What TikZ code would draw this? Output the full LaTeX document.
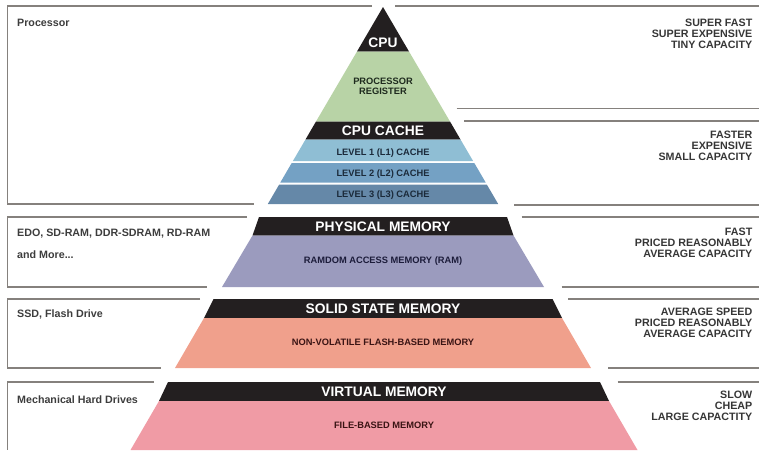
\documentclass[tikz,border=0pt]{standalone}
\usepackage{fontspec}
\setmainfont{Liberation Sans}
\definecolor{framegray}{HTML}{85817D}
\definecolor{bandblack}{HTML}{231F20}
\definecolor{reggreen}{HTML}{B8D3A6}
\definecolor{levelone}{HTML}{8FBED4}
\definecolor{leveltwo}{HTML}{74A1C4}
\definecolor{levelthree}{HTML}{6588A8}
\definecolor{rampurple}{HTML}{9B9BBE}
\definecolor{flashsalmon}{HTML}{F0A08C}
\definecolor{filepink}{HTML}{F09BA5}
\definecolor{lefttextc}{HTML}{3D3D3D}
\definecolor{righttextc}{HTML}{363636}
\definecolor{greentext}{HTML}{1E2A1E}
\definecolor{bluetext}{HTML}{1B2A3A}
\definecolor{purpletext}{HTML}{1C1C3A}
\definecolor{redtext}{HTML}{3A1414}
\begin{document}
\begin{tikzpicture}[x=1pt,y=-1pt,
  frame/.style={draw=framegray,line width=1.4pt},
  band/.style={fill=bandblack,draw=none},
  title/.style={text=white,font=\fontsize{13.8}{14}\selectfont\bfseries,inner sep=0pt,anchor=base},
  small/.style={font=\fontsize{9.3}{9.5}\selectfont\bfseries,inner sep=0pt,anchor=base},
  lefttext/.style={text=lefttextc,font=\fontsize{10.7}{11}\selectfont\bfseries,inner sep=0pt,anchor=base west},
  righttext/.style={text=righttextc,font=\fontsize{10.7}{11}\selectfont\bfseries,inner sep=0pt,anchor=north east,align=right}]
\useasboundingbox (0,0) rectangle (759,450);

% ---------- frames ----------
\draw[frame] (372,6) -- (7.3,6) -- (7.3,204) -- (254,204);
\draw[frame] (395,6) -- (759,6);
\draw[frame] (456.7,108.3) -- (759,108.3);
\draw[frame] (464,121) -- (759,121);
\draw[frame] (514,205) -- (759,205);
\draw[frame] (247,217) -- (7.3,217) -- (7.3,287) -- (207,287);
\draw[frame] (521.7,217) -- (759,217);
\draw[frame] (561.7,287) -- (759,287);
\draw[frame] (200,299) -- (7.3,299) -- (7.3,368) -- (161,368);
\draw[frame] (568,299) -- (759,299);
\draw[frame] (608,368) -- (759,368);
\draw[frame] (154,382) -- (7.3,382) -- (7.3,450);
\draw[frame] (617.7,382) -- (759,382);

% ---------- top section ----------
\fill[bandblack] (383,7) -- (409,51.5) -- (357,51.5) -- cycle;
\fill[reggreen] (357,51.5) -- (409,51.5) -- (450,121.5) -- (316,121.5) -- cycle;
\fill[bandblack] (316,121.5) -- (450,121.5) -- (460.5,139.5) -- (305.5,139.5) -- cycle;
\fill[levelone] (305.5,139.5) -- (460.5,139.5) -- (473.1,161) -- (292.9,161) -- cycle;
\fill[leveltwo] (291.7,163) -- (474.3,163) -- (485.7,182.5) -- (280.3,182.5) -- cycle;
\fill[levelthree] (279.2,184.5) -- (486.8,184.5) -- (498.2,204) -- (267.8,204) -- cycle;

% ---------- physical memory ----------
\fill[bandblack] (259,217) -- (507,217) -- (513.5,235.5) -- (252.5,235.5) -- cycle;
\fill[rampurple] (252.5,235.5) -- (513.5,235.5) -- (544,287) -- (222,287) -- cycle;

% ---------- solid state memory ----------
\fill[bandblack] (213.5,299) -- (552.5,299) -- (562,318) -- (204,318) -- cycle;
\fill[flashsalmon] (204,318) -- (562,318) -- (591,368) -- (175,368) -- cycle;

% ---------- virtual memory ----------
\fill[bandblack] (168,382) -- (600,382) -- (609,401) -- (159,401) -- cycle;
\fill[filepink] (159,401) -- (609,401) -- (637.5,450) -- (130.5,450) -- cycle;

% ---------- pyramid texts ----------
\node[title] (cpu) at (383,47.5) {CPU};
\node[small,text=greentext,anchor=north,align=center] (reg) at (383,78.2) {PROCESSOR\\REGISTER};
\node[title] (cache) at (383,135) {CPU CACHE};
\node[small,text=bluetext] (l1) at (383,155) {LEVEL 1 (L1) CACHE};
\node[small,text=bluetext] (l2) at (383,176) {LEVEL 2 (L2) CACHE};
\node[small,text=bluetext] (l3) at (383,197.6) {LEVEL 3 (L3) CACHE};
\node[title] (phys) at (383,231.6) {PHYSICAL MEMORY};
\node[small,text=purpletext] (ram) at (383,263.3) {RAMDOM ACCESS MEMORY (RAM)};
\node[title] (ssm) at (383,313.2) {SOLID STATE MEMORY};
\node[small,text=redtext] (flash) at (383,345) {NON-VOLATILE FLASH-BASED MEMORY};
\node[title] (virt) at (384,396.6) {VIRTUAL MEMORY};
\node[small,text=redtext] (file) at (384,428.3) {FILE-BASED MEMORY};

% ---------- left texts ----------
\node[lefttext] (proc) at (17,26) {Processor};
\node[lefttext] (edo) at (17,236.3) {EDO, SD-RAM, DDR-SDRAM, RD-RAM};
\node[lefttext] (more) at (17,258) {and More...};
\node[lefttext] (ssd) at (17,317.8) {SSD, Flash Drive};
\node[lefttext] (hdd) at (17,403) {Mechanical Hard Drives};

% ---------- right texts ----------
\node[righttext] (r1) at (752.5,19.2) {SUPER FAST\\SUPER EXPENSIVE\\TINY CAPACITY};
\node[righttext] (r2) at (752.5,131.2) {FASTER\\EXPENSIVE\\SMALL CAPACITY};
\node[righttext] (r3) at (752.5,228.2) {FAST\\PRICED REASONABLY\\AVERAGE CAPACITY};
\node[righttext] (r4) at (752.5,308.2) {AVERAGE SPEED\\PRICED REASONABLY\\AVERAGE CAPACITY};
\node[righttext] (r5) at (752.5,391.2) {SLOW\\CHEAP\\LARGE CAPACTITY};
\end{tikzpicture}
\end{document}
